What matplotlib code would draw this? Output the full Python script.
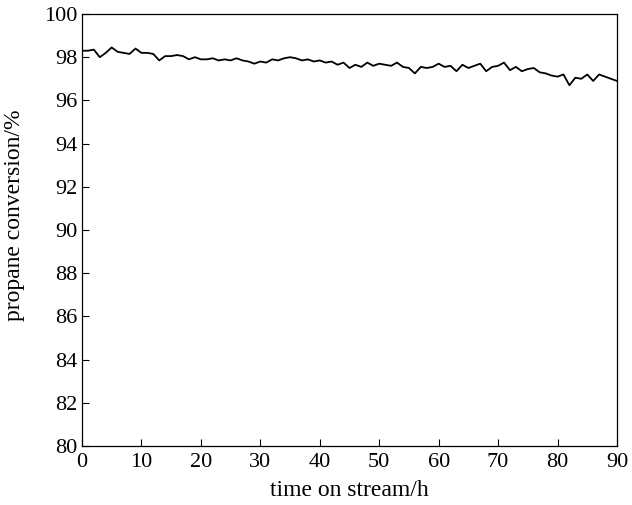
import numpy as np
import matplotlib
matplotlib.use("Agg")
import matplotlib.pyplot as plt

plt.rcParams["font.family"] = ["Liberation Serif", "DejaVu Serif"]

# time on stream (h) and propane conversion (%)
hours = np.arange(0, 91, 1)
conversion = [
    98.3, 98.3, 98.35, 98.0, 98.2, 98.45, 98.25, 98.2, 98.15, 98.4,
    98.2, 98.2, 98.15, 97.85, 98.05, 98.05, 98.1, 98.05, 97.9, 98.0,
    97.9, 97.9, 97.95, 97.85, 97.9, 97.85, 97.95, 97.85, 97.8, 97.7,
    97.8, 97.75, 97.9, 97.85, 97.95, 98.0, 97.95, 97.85, 97.9, 97.8,
    97.85, 97.75, 97.8, 97.65, 97.75, 97.5, 97.65, 97.55, 97.75, 97.6,
    97.7, 97.65, 97.6, 97.75, 97.55, 97.5, 97.25, 97.55, 97.5, 97.55,
    97.7, 97.55, 97.6, 97.35, 97.65, 97.5, 97.6, 97.7, 97.35, 97.55,
    97.6, 97.75, 97.4, 97.55, 97.35, 97.45, 97.5, 97.3, 97.25, 97.15,
    97.1, 97.2, 96.7, 97.05, 97.0, 97.2, 96.9, 97.2, 97.1, 97.0,
    96.9,
]

fig = plt.figure(figsize=(6.32, 5.05), dpi=100)
ax = fig.add_axes([0.1297, 0.1168, 0.8465, 0.8555])

ax.plot(hours, conversion, color="black", linewidth=1.3)

ax.set_xlim(0, 90)
ax.set_ylim(80, 100)
ax.set_xticks(np.arange(0, 91, 10))
ax.set_yticks(np.arange(80, 101, 2))
ax.tick_params(direction="in", labelsize=16, length=5, width=0.8)
ax.tick_params(axis="x", pad=5)
ax.tick_params(axis="y", pad=3)
for s in ax.spines.values():
    s.set_linewidth(0.9)

ax.set_xlabel("time on stream/h", fontsize=17, labelpad=6)
ax.set_ylabel("propane conversion/%", fontsize=17)
ax.yaxis.set_label_coords(-0.107, 0.535)

fig.savefig("out.png", dpi=100)
